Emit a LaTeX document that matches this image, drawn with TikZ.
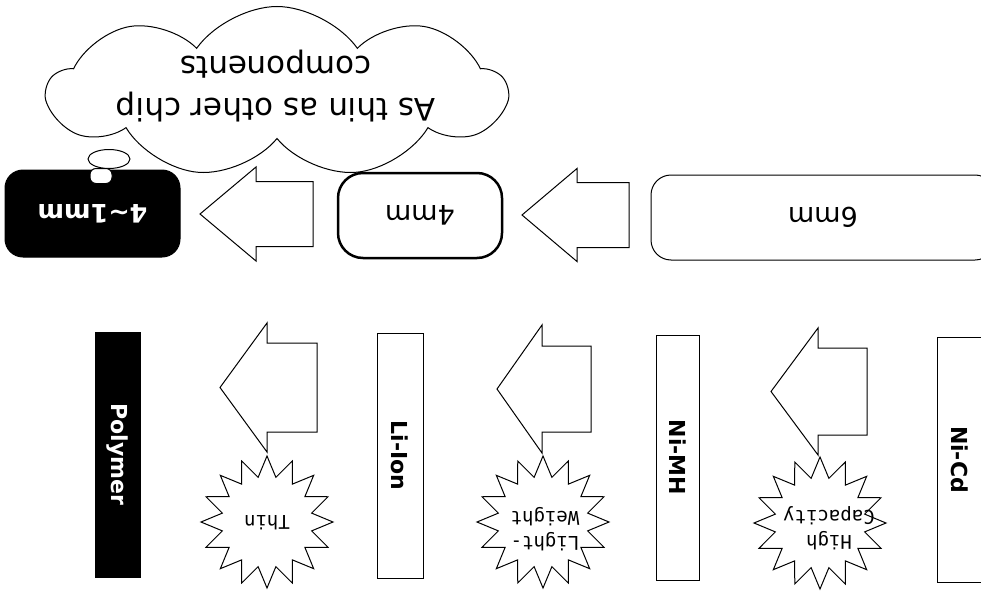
\documentclass[tikz,border=0pt]{standalone}
\usepackage{fontspec}
\setmainfont{DejaVu Sans}
\newfontfamily\burstfont{DejaVu Sans Mono}
\usetikzlibrary{shapes.geometric,shapes.symbols}

\tikzset{
  thinline/.style={draw=black, line width=1pt},
  % block arrow pointing left: {length}{head length}{head height}{body height}
  pics/blockarrow/.style n args={4}{code={
    \draw[thinline, fill=white, line join=miter]
      (0,0) -- (#2,-#3/2) -- (#2,-#4/2) -- (#1,-#4/2) -- (#1,#4/2)
      -- (#2,#4/2) -- (#2,#3/2) -- cycle;
  }},
  sizebox/.style={thinline, fill=white, inner sep=0,
    font={\fontsize{27}{32}\selectfont}, rotate=180},
  battery/.style={thinline, fill=white, inner sep=0, rotate=-90,
    minimum width=245, font={\fontsize{22}{26}\selectfont\bfseries}},
  burst/.style={thinline, fill=white, star, star points=16, star point ratio=1.45,
    minimum size=132, inner sep=0},
  bursttext/.style={inner sep=0, rotate=180, align=center,
    font={\burstfont\fontsize{19}{25}\selectfont}},
}

\begin{document}
\begin{tikzpicture}[x=1pt,y=-1pt]
\path[use as bounding box] (0,0) rectangle (981,591);
\clip (0,0) rectangle (981,591);

% thought cloud
\node[cloud, thinline, fill=white, cloud puffs=9, cloud puff arc=110, aspect=2.6,
  minimum width=458, minimum height=171, inner sep=0] (thought) at (277,92) {};
\node[rotate=180, align=center, inner sep=0,
  font={\fontsize{31}{42}\selectfont}] (thoughttext) at (276,86)
  {As thin as other chip\\components};
\node[ellipse, thinline, fill=white, minimum width=42, minimum height=19, inner sep=0] (puffa) at (109,159) {};

% thickness stages
\node[sizebox, fill=black, text=white, rounded corners=18, minimum width=175, minimum height=87,
  font={\fontsize{25.5}{30}\selectfont\bfseries}] (s1) at (92.5,213.5) {4\textasciitilde1mm};
\node[thinline, fill=white, rounded corners=6, minimum width=22, minimum height=15, inner sep=0] (puffb) at (101,176) {};
\node[sizebox, line width=2.5pt, rounded corners=25, minimum width=164, minimum height=85] (s4) at (420,215.5) {4mm};
\node[sizebox, rounded corners=20, minimum width=344, minimum height=85] (s6) at (823,217.5) {6mm};

\pic (ta) at (200,214) {blockarrow={113}{56}{94}{65}};
\pic (tb) at (522,215) {blockarrow={107}{55}{93}{65}};

% battery chemistries
\node[battery, fill=black, text=white, minimum height=45] (polymer) at (117.5,454.5) {Polymer};
\node[battery, minimum height=46] (liion) at (400,455.5) {Li-Ion};
\node[battery, minimum height=43] (nimh) at (677.5,457.5) {Ni-MH};
\node[battery, minimum height=46] (nicd) at (960,459.5) {Ni-Cd};

% drivers
\node[burst] (bthin) at (267,522) {};
\node[burst] (blight) at (543,522) {};
\node[burst] (bhigh) at (820,523) {};
\node[bursttext] (tthin) at (267,523) {Thin};
\node[bursttext] (tlight) at (545,529) {Light-\\Weight};
\node[bursttext] (thigh) at (829,528) {High\\Capacity};

\pic (ba) at (220,387.5) {blockarrow={97}{47}{129}{89}};
\pic (bb) at (497,389) {blockarrow={94}{45}{128}{86}};
\pic (bc) at (771,391.5) {blockarrow={96}{47}{127}{87}};
\end{tikzpicture}
\end{document}
